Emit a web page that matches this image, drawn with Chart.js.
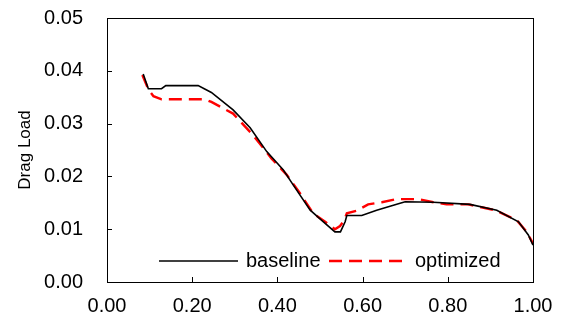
<!DOCTYPE html>
<html>
<head>
<meta charset="utf-8">
<script src="https://cdn.jsdelivr.net/npm/chart.js@4/dist/chart.umd.min.js"></script>
<style>
  body { margin: 0; background: #fff; }
  #wrap { width: 562px; height: 326px; }
</style>
</head>
<body>
<div id="wrap"><canvas id="chart" width="562" height="326"></canvas></div>
<script>
// values
const baselineX = [0.085, 0.097, 0.128, 0.138, 0.214, 0.245, 0.296, 0.336, 0.375, 0.414, 0.437, 0.477, 0.508, 0.535, 0.548, 0.559, 0.563, 0.598, 0.633, 0.688, 0.700, 0.766, 0.852, 0.915, 0.966, 0.989, 1.0];
const baselineY = [0.0394, 0.0366, 0.0366, 0.0372, 0.0372, 0.0359, 0.0326, 0.0292, 0.0247, 0.0212, 0.0184, 0.0136, 0.0114, 0.0095, 0.0095, 0.0114, 0.0126, 0.0126, 0.0136, 0.0149, 0.0152, 0.0151, 0.0147, 0.0136, 0.0114, 0.0089, 0.0070];
const optimizedX = [0.083, 0.097, 0.109, 0.128, 0.230, 0.245, 0.296, 0.343, 0.386, 0.422, 0.453, 0.484, 0.512, 0.535, 0.547, 0.557, 0.563, 0.586, 0.613, 0.645, 0.680, 0.731, 0.766, 0.797, 0.848, 0.911, 0.962, 0.985, 1.0];
const optimizedY = [0.0392, 0.0365, 0.0352, 0.0346, 0.0346, 0.0341, 0.0319, 0.0278, 0.0234, 0.0203, 0.0168, 0.0130, 0.0114, 0.0100, 0.0106, 0.0117, 0.0130, 0.0135, 0.0147, 0.0151, 0.0157, 0.0157, 0.0151, 0.0147, 0.0147, 0.0136, 0.0117, 0.0095, 0.0073];
const seriesNames = ['baseline', 'optimized'];
const xTicks = [0, 0.2, 0.4, 0.6, 0.8, 1.0];
const yTicks = [0, 0.01, 0.02, 0.03, 0.04, 0.05];

const FONT = '"Liberation Sans", Arial, sans-serif';

const toPoints = (xs, ys) => xs.map((x, i) => ({ x: x, y: ys[i] }));

// box around plot + short inward tick marks
const frame = {
  id: 'frame',
  afterDatasetsDraw(chart) {
    const { ctx, chartArea: a, scales } = chart;
    ctx.save();
    ctx.strokeStyle = '#000';
    ctx.lineWidth = 1;
    ctx.strokeRect(a.left + 0.5, a.top + 0.5, a.right - a.left, a.bottom - a.top);
    ctx.beginPath();
    xTicks.slice(1, -1).forEach(v => {
      const px = Math.round(scales.x.getPixelForValue(v)) + 0.5;
      ctx.moveTo(px, a.bottom);
      ctx.lineTo(px, a.bottom - 5);
    });
    yTicks.slice(1, -1).forEach(v => {
      const py = Math.round(scales.y.getPixelForValue(v)) + 0.5;
      ctx.moveTo(a.left, py);
      ctx.lineTo(a.left + 5, py);
    });
    ctx.stroke();
    ctx.restore();
  }
};

// legend sitting inside the plot, near the bottom
const innerLegend = {
  id: 'innerLegend',
  afterDatasetsDraw(chart) {
    const { ctx } = chart;
    const y = 261;
    const items = [
      { x0: 159, x1: 238, tx: 246 },
      { x0: 329, x1: 408, tx: 415 }
    ];
    ctx.save();
    chart.data.datasets.forEach((ds, i) => {
      const it = items[i];
      ctx.strokeStyle = ds.borderColor;
      ctx.lineWidth = ds.borderWidth;
      ctx.setLineDash(ds.borderDash || []);
      ctx.beginPath();
      ctx.moveTo(it.x0, y);
      ctx.lineTo(it.x1, y);
      ctx.stroke();
      ctx.setLineDash([]);
      ctx.fillStyle = '#000';
      ctx.font = '20px ' + FONT;
      ctx.textBaseline = 'middle';
      ctx.fillText(ds.label, it.tx, y);
    });
    ctx.restore();
  }
};

new Chart(document.getElementById('chart'), {
  type: 'line',
  data: {
    datasets: [
      {
        label: seriesNames[0],
        data: toPoints(baselineX, baselineY),
        borderColor: '#000000',
        borderWidth: 1.6,
        pointRadius: 0,
        tension: 0,
        fill: false
      },
      {
        label: seriesNames[1],
        data: toPoints(optimizedX, optimizedY),
        borderColor: '#ff0000',
        borderWidth: 2.4,
        borderDash: [13, 7],
        pointRadius: 0,
        tension: 0,
        fill: false
      }
    ]
  },
  options: {
    responsive: false,
    animation: false,
    layout: { padding: { top: 18, right: 29, left: 0, bottom: 0 } },
    plugins: {
      legend: { display: false },
      tooltip: { enabled: false }
    },
    scales: {
      x: {
        type: 'linear',
        min: 0,
        max: 1,
        afterBuildTicks: s => { s.ticks = xTicks.map(v => ({ value: v })); },
        afterFit: s => { s.height = 44; s.paddingLeft = 0; s.paddingRight = 0; },
        grid: { display: false, drawTicks: false },
        border: { display: false },
        ticks: {
          padding: 12,
          color: '#000',
          font: { family: FONT, size: 20 },
          callback: v => Number(v).toFixed(2)
        }
      },
      y: {
        min: 0,
        max: 0.05,
        afterBuildTicks: s => { s.ticks = yTicks.map(v => ({ value: v })); },
        afterFit: s => { s.width = 107; s.paddingTop = 0; s.paddingBottom = 0; },
        grid: { display: false, drawTicks: false },
        border: { display: false },
        title: {
          display: true,
          text: 'Drag Load',
          color: '#000',
          font: { family: FONT, size: 17 },
          padding: { top: 15, bottom: 0 }
        },
        ticks: {
          padding: 24,
          color: '#000',
          font: { family: FONT, size: 20 },
          callback: v => Number(v).toFixed(2)
        }
      }
    }
  },
  plugins: [frame, innerLegend]
});
</script>
</body>
</html>
